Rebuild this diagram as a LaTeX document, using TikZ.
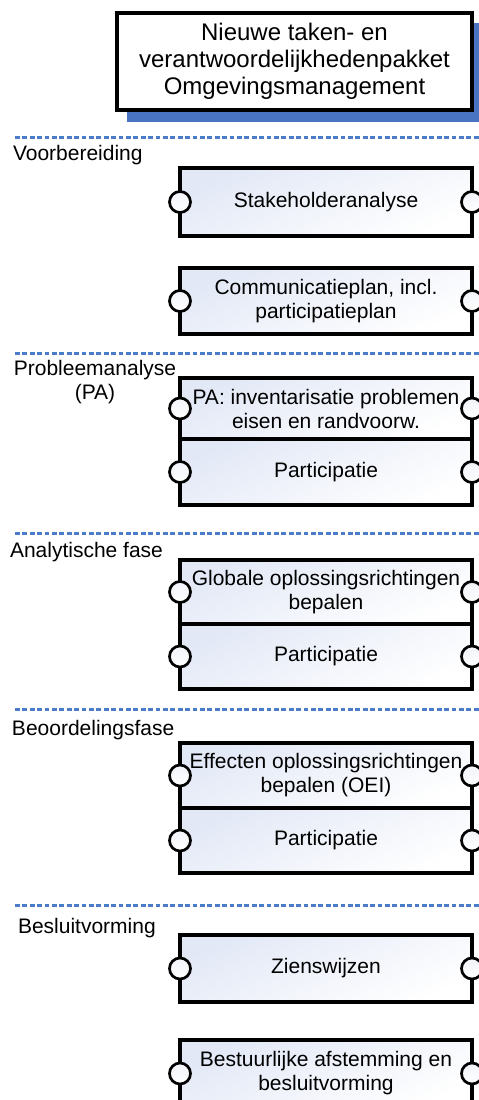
\documentclass[tikz,border=0pt]{standalone}
\usepackage{fontspec}
\setmainfont{Liberation Sans}
\definecolor{phaseblue}{RGB}{74,124,200}
\definecolor{shadowblue}{RGB}{72,116,194}
\definecolor{paleblue}{RGB}{226,232,246}
\begin{document}
\begin{tikzpicture}[x=1pt,y=-1pt,
  every node/.style={inner sep=0pt,outer sep=0pt},
  phaseline/.style={draw=phaseblue,line width=3pt,dash pattern=on 4.8pt off 2.6pt},
  phaselabel/.style={font=\fontsize{21}{24}\selectfont,align=center},
  taskbox/.style={draw,line width=3.1pt,minimum width=292pt,
    top color=paleblue,bottom color=white,shading angle=25,
    font=\fontsize{21}{24}\selectfont,align=center},
  port/.style={circle,draw,line width=2.7pt,minimum size=21pt,
    top color=paleblue!50!white,bottom color=white}]
\clip (0,0) rectangle (479,1100);

% title block with its offset shadow
\fill[shadowblue] (127,23) rectangle (490,122);
\node[draw,line width=3.1pt,fill=white,minimum width=355pt,minimum height=97pt,
  font=\fontsize{24}{27}\selectfont,align=center] (title) at (294.5,61.5)
  {Nieuwe taken- en\\verantwoordelijkhedenpakket\\Omgevingsmanagement};

% phase separators
\foreach \y/\n in {137/s1,353/s2,533/s3,709/s4,905/s5}{
  \coordinate (\n a) at (15,\y);
  \coordinate (\n b) at (479,\y);
  \draw[phaseline] (\n a) -- (\n b);
}

% phase labels
\node[phaselabel,anchor=west] (lVoor) at (13,155) {Voorbereiding};
\node[phaselabel] (lPA) at (95,382) {Probleemanalyse\\(PA)};
\node[phaselabel,anchor=west] (lAna) at (10,552) {Analytische fase};
\node[phaselabel,anchor=west] (lBeo) at (12,730) {Beoordelingsfase};
\node[phaselabel,anchor=west] (lBes) at (18,928) {Besluitvorming};

% task boxes
\node[taskbox,minimum height=68pt] (stake) at (326,202) {Stakeholderanalyse};
\node[taskbox,minimum height=66pt] (comm) at (326,301) {Communicatieplan, incl.\\participatieplan};
\node[taskbox,minimum height=61pt] (pa) at (326,408.5) {PA: inventarisatie problemen\\eisen en randvoorw.};
\node[taskbox,minimum height=66pt] (papart) at (326,472) {Participatie};
\node[taskbox,minimum height=64pt] (glob) at (326,592) {Globale oplossingsrichtingen\\bepalen};
\node[taskbox,minimum height=65pt] (globpart) at (326,656.5) {Participatie};
\node[taskbox,minimum height=65pt] (eff) at (326,775.5) {Effecten oplossingsrichtingen\\bepalen (OEI)};
\node[taskbox,minimum height=65pt] (effpart) at (326,840.5) {Participatie};
\node[taskbox,minimum height=67pt] (zien) at (326,968.5) {Zienswijzen};
\node[taskbox,minimum height=67pt] (best) at (326,1073.5) {Bestuurlijke afstemming en\\besluitvorming};

% ports on both sides of every box
\foreach \b in {stake,comm,pa,papart,glob,globpart,eff,effpart,zien,best}{
  \node[port] (\b L) at (\b.west) {};
  \node[port] (\b R) at (\b.east) {};
}
\end{tikzpicture}
\end{document}
